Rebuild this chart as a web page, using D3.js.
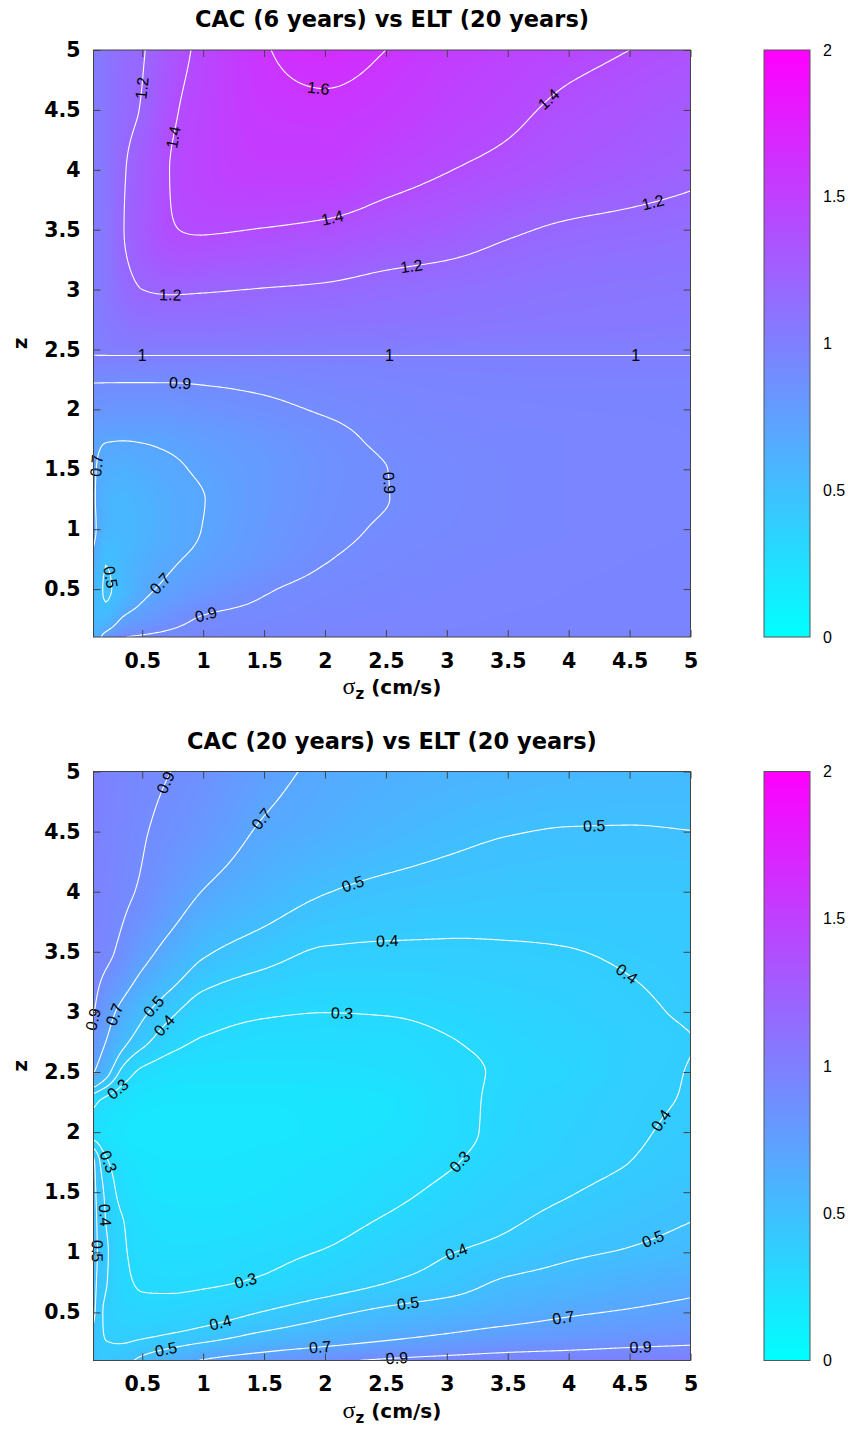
<!DOCTYPE html>
<html>
<head>
    <meta charset="utf-8">
    <title>CAC vs ELT</title>
    <script src="https://d3js.org/d3.v7.min.js"></script>
    <style>
        body { margin: 0; background: #fff; }
        .title { font-family: "DejaVu Sans", sans-serif; font-weight: bold; font-size: 22.5px; text-anchor: middle; }
        .axis-title { font-family: "DejaVu Sans", sans-serif; font-weight: bold; font-size: 20px; }
        .iso { fill: none; stroke: #fff; stroke-width: 1.1; }
        .iso-label { font-family: "Liberation Sans", Arial, sans-serif; font-size: 16px; fill: #000; }
        .cb-label { font-family: "Liberation Sans", Arial, sans-serif; font-size: 16px; fill: #000; }
    </style>
</head>
<body>
<div id="chart"></div>
<script>
    // sigma_z (cm/s) columns shared by both maps
    const sigmaGrid = [0.1, 0.2, 0.35, 0.5, 0.75, 1, 1.5, 2, 2.5, 3, 3.5, 4, 4.5, 5];

    // CAC (6 years) vs ELT (20 years): one row per z value
    const zGridTop = [0.1, 0.3, 0.5, 0.75, 1, 1.25, 1.5, 1.75, 2, 2.25, 2.45, 2.7, 3, 3.5, 4, 4.5, 5];
    const ratioTop = [
        [0.58, 0.76, 0.895, 0.915, 0.93, 0.94, 0.95, 0.955, 0.96, 0.962, 0.964, 0.965, 0.966, 0.967],
        [0.56, 0.52, 0.68, 0.75, 0.84, 0.895, 0.92, 0.94, 0.95, 0.955, 0.96, 0.962, 0.964, 0.965],
        [0.58, 0.49, 0.55, 0.66, 0.74, 0.80, 0.89, 0.925, 0.94, 0.95, 0.955, 0.96, 0.963, 0.965],
        [0.66, 0.505, 0.56, 0.62, 0.685, 0.73, 0.82, 0.895, 0.925, 0.94, 0.95, 0.955, 0.96, 0.965],
        [0.74, 0.58, 0.55, 0.59, 0.65, 0.703, 0.80, 0.87, 0.91, 0.93, 0.94, 0.95, 0.955, 0.96],
        [0.72, 0.60, 0.57, 0.60, 0.655, 0.697, 0.79, 0.86, 0.898, 0.925, 0.94, 0.95, 0.955, 0.96],
        [0.72, 0.64, 0.62, 0.645, 0.68, 0.72, 0.79, 0.855, 0.899, 0.925, 0.94, 0.95, 0.955, 0.96],
        [0.74, 0.71, 0.705, 0.71, 0.73, 0.76, 0.815, 0.87, 0.915, 0.935, 0.945, 0.95, 0.955, 0.96],
        [0.84, 0.83, 0.825, 0.825, 0.83, 0.845, 0.875, 0.91, 0.935, 0.95, 0.955, 0.96, 0.962, 0.965],
        [0.91, 0.91, 0.91, 0.91, 0.91, 0.915, 0.93, 0.95, 0.96, 0.97, 0.975, 0.978, 0.98, 0.98],
        [1, 1, 1, 1, 1, 1, 1, 1, 1, 1, 1, 1, 1, 1],
        [1.005, 1.04, 1.08, 1.1, 1.11, 1.11, 1.10, 1.09, 1.085, 1.075, 1.065, 1.055, 1.05, 1.04],
        [1.01, 1.06, 1.15, 1.2, 1.215, 1.21, 1.195, 1.18, 1.15, 1.13, 1.11, 1.09, 1.08, 1.07],
        [1.01, 1.07, 1.20, 1.28, 1.395, 1.41, 1.395, 1.37, 1.32, 1.28, 1.22, 1.18, 1.16, 1.14],
        [1.01, 1.08, 1.19, 1.27, 1.41, 1.47, 1.52, 1.52, 1.46, 1.405, 1.36, 1.31, 1.27, 1.23],
        [1.02, 1.08, 1.16, 1.21, 1.38, 1.46, 1.56, 1.575, 1.54, 1.48, 1.43, 1.37, 1.33, 1.29],
        [1.02, 1.08, 1.15, 1.19, 1.33, 1.44, 1.59, 1.65, 1.60, 1.53, 1.48, 1.44, 1.40, 1.36]
    ];
    const levelsTop = [0.5, 0.7, 0.9, 1, 1.2, 1.4, 1.6];
    // [level, sigma, z] where each contour label sits
    const labelsTop = [
        [1.2, 0.52, 4.68], [1.4, 0.76, 4.27], [1.6, 1.94, 4.62], [1.4, 3.88, 4.54], [1.4, 2.05, 3.65],
        [1.2, 4.68, 3.77], [1.2, 2.7, 3.26], [1.2, 0.73, 2.93], [1, 0.5, 2.45], [1, 2.53, 2.45],
        [1, 4.55, 2.45], [0.9, 0.81, 2.2], [0.9, 2.58, 1.39], [0.9, 1.02, 0.3], [0.7, 0.13, 1.53],
        [0.7, 0.68, 0.51], [0.5, 0.24, 0.6]
    ];

    // CAC (20 years) vs ELT (20 years)
    const zGridBottom = [0.1, 0.3, 0.5, 0.75, 1, 1.25, 1.5, 1.75, 2, 2.25, 2.5, 2.75, 3, 3.5, 4, 4.5, 5];
    const ratioBottom = [
        [0.44, 0.445, 0.47, 0.53, 0.62, 0.71, 0.80, 0.87, 0.92, 0.95, 0.97, 0.98, 0.99, 1.0],
        [0.47, 0.395, 0.38, 0.39, 0.415, 0.45, 0.535, 0.60, 0.665, 0.72, 0.77, 0.80, 0.83, 0.85],
        [0.52, 0.38, 0.345, 0.33, 0.335, 0.35, 0.405, 0.47, 0.53, 0.58, 0.63, 0.68, 0.715, 0.75],
        [0.53, 0.41, 0.32, 0.29, 0.285, 0.29, 0.31, 0.35, 0.398, 0.44, 0.52, 0.56, 0.61, 0.65],
        [0.54, 0.42, 0.31, 0.27, 0.255, 0.26, 0.28, 0.305, 0.35, 0.395, 0.43, 0.48, 0.51, 0.545],
        [0.54, 0.40, 0.30, 0.255, 0.235, 0.23, 0.245, 0.27, 0.31, 0.355, 0.39, 0.43, 0.465, 0.50],
        [0.53, 0.38, 0.26, 0.225, 0.21, 0.21, 0.22, 0.24, 0.275, 0.32, 0.365, 0.395, 0.43, 0.465],
        [0.52, 0.32, 0.24, 0.21, 0.2, 0.2, 0.21, 0.225, 0.25, 0.29, 0.34, 0.37, 0.40, 0.43],
        [0.26, 0.22, 0.2, 0.19, 0.19, 0.19, 0.195, 0.205, 0.225, 0.27, 0.325, 0.36, 0.39, 0.415],
        [0.32, 0.27, 0.23, 0.21, 0.2, 0.2, 0.2, 0.205, 0.215, 0.27, 0.32, 0.35, 0.385, 0.405],
        [0.71, 0.56, 0.36, 0.28, 0.245, 0.235, 0.235, 0.24, 0.25, 0.28, 0.31, 0.33, 0.375, 0.403],
        [0.82, 0.70, 0.53, 0.43, 0.33, 0.29, 0.27, 0.265, 0.27, 0.295, 0.32, 0.345, 0.37, 0.398],
        [0.91, 0.78, 0.64, 0.53, 0.415, 0.345, 0.31, 0.301, 0.305, 0.32, 0.34, 0.36, 0.385, 0.41],
        [0.96, 0.93, 0.86, 0.76, 0.63, 0.52, 0.44, 0.39, 0.385, 0.385, 0.39, 0.397, 0.41, 0.42],
        [0.98, 0.96, 0.92, 0.885, 0.79, 0.695, 0.58, 0.505, 0.47, 0.455, 0.445, 0.44, 0.44, 0.44],
        [0.99, 0.97, 0.94, 0.91, 0.86, 0.81, 0.68, 0.62, 0.57, 0.53, 0.505, 0.495, 0.494, 0.499],
        [1.0, 0.98, 0.95, 0.93, 0.898, 0.86, 0.75, 0.67, 0.63, 0.60, 0.58, 0.56, 0.55, 0.54]
    ];
    const levelsBottom = [0.3, 0.4, 0.5, 0.7, 0.9];
    const labelsBottom = [
        [0.9, 0.73, 4.89], [0.7, 1.46, 4.62], [0.5, 2.23, 4.06], [0.5, 4.21, 4.53], [0.4, 2.51, 3.62],
        [0.4, 4.48, 3.32], [0.3, 2.14, 3.0], [0.9, 0.13, 2.93], [0.7, 0.29, 2.97], [0.5, 0.53, 3.1],
        [0.4, 0.63, 2.93], [0.3, 0.25, 2.41], [0.3, 0.16, 1.74], [0.4, 0.2, 1.31], [0.5, 0.14, 1.01],
        [0.3, 1.34, 0.79], [0.3, 3.09, 1.77], [0.4, 4.78, 2.08], [0.4, 3.08, 1.0], [0.4, 1.14, 0.42],
        [0.5, 4.68, 1.14], [0.5, 2.68, 0.59], [0.5, 0.7, 0.17], [0.7, 1.96, 0.2], [0.7, 3.96, 0.44],
        [0.9, 2.59, 0.12], [0.9, 4.59, 0.21]
    ];

    const axisTicks = [0.5, 1, 1.5, 2, 2.5, 3, 3.5, 4, 4.5, 5];
    const colorTicks = [0, 0.5, 1, 1.5, 2];
    const titles = ["CAC (6 years) vs ELT (20 years)", "CAC (20 years) vs ELT (20 years)"];

    const width = 848, height = 1434;
    const left = 93.5, right = 690.5;
    const cbLeft = 764, cbRight = 810;

    const color = d3.scaleLinear().domain([0, 2]).range(["#00ffff", "#ff00ff"]);

    const svg = d3.select("#chart").append("svg")
        .attr("width", width)
        .attr("height", height);

    const defs = svg.append("defs");
    const grad = defs.append("linearGradient")
        .attr("id", "cbgrad")
        .attr("x1", 0).attr("y1", 1).attr("x2", 0).attr("y2", 0);
    grad.append("stop").attr("offset", 0).attr("stop-color", color(0));
    grad.append("stop").attr("offset", 1).attr("stop-color", color(2));

    // monotone cubic (Fritsch-Carlson) slopes and evaluation
    function pchipSlopes(xs, ys) {
        const n = xs.length, h = [], d = [], m = new Array(n);
        for (let i = 0; i < n - 1; i++) {
            h[i] = xs[i + 1] - xs[i];
            d[i] = (ys[i + 1] - ys[i]) / h[i];
        }
        m[0] = d[0];
        m[n - 1] = d[n - 2];
        for (let i = 1; i < n - 1; i++) {
            if (d[i - 1] * d[i] <= 0) m[i] = 0;
            else {
                const w1 = 2 * h[i] + h[i - 1], w2 = h[i] + 2 * h[i - 1];
                m[i] = (w1 + w2) / (w1 / d[i - 1] + w2 / d[i]);
            }
        }
        return m;
    }

    function pchip(xs, ys, m, xv) {
        const i = Math.min(Math.max(d3.bisectRight(xs, xv) - 1, 0), xs.length - 2);
        const h = xs[i + 1] - xs[i], t = (xv - xs[i]) / h;
        const t2 = t * t, t3 = t2 * t;
        return (2 * t3 - 3 * t2 + 1) * ys[i] + (t3 - 2 * t2 + t) * h * m[i] +
            (-2 * t3 + 3 * t2) * ys[i + 1] + (t3 - t2) * h * m[i + 1];
    }

    function smoothField(xs, ys, rows) {
        const rowM = rows.map(r => pchipSlopes(xs, r));
        const column = xv => rows.map((r, j) => pchip(xs, r, rowM[j], xv));
        return {
            column,
            at(xv, yv) {
                const c = column(xv);
                return pchip(ys, c, pchipSlopes(ys, c), yv);
            }
        };
    }

    // drop the parts of a contour ring that run along the grid border
    function splitRing(ring, n, m) {
        const onEdge = (a, b) => (a[0] === 0 && b[0] === 0) || (a[0] === n && b[0] === n) ||
            (a[1] === 0 && b[1] === 0) || (a[1] === m && b[1] === m);
        const k = ring.length - 1;
        let start = -1;
        for (let i = 0; i < k; i++) {
            if (onEdge(ring[i], ring[i + 1])) { start = i + 1; break; }
        }
        if (start < 0) return [ring];
        const out = [];
        let cur = [ring[start % k]];
        for (let s = 0; s < k; s++) {
            const a = ring[(start + s) % k], b = ring[(start + s + 1) % k];
            if (onEdge(a, b)) {
                if (cur.length > 1) out.push(cur);
                cur = [b];
            } else {
                cur.push(b);
            }
        }
        if (cur.length > 1) out.push(cur);
        return out;
    }

    const panels = [
        { top: 50, h: 587, zs: zGridTop, rows: ratioTop, levels: levelsTop, labels: labelsTop },
        { top: 771.5, h: 589, zs: zGridBottom, rows: ratioBottom, levels: levelsBottom, labels: labelsBottom }
    ];

    panels.forEach((p, idx) => drawPanel(p, idx));

    function drawPanel(p, idx) {
        const x = d3.scaleLinear().domain([0.1, 5]).range([left, right]);
        const y = d3.scaleLinear().domain([0.1, 5]).range([p.top + p.h, p.top]);
        const field = smoothField(sigmaGrid, p.zs, p.rows);

        defs.append("clipPath").attr("id", "clip" + idx)
            .append("rect")
            .attr("x", left).attr("y", p.top)
            .attr("width", right - left).attr("height", p.h);

        // sample the table on a fine raster for d3.contours
        const N = 246, M = 246;
        const ds = 4.9 / (N - 1), dz = 4.9 / (M - 1);
        const values = new Float64Array(N * M);
        for (let i = 0; i < N; i++) {
            const col = field.column(0.1 + i * ds);
            const cm = pchipSlopes(p.zs, col);
            for (let j = 0; j < M; j++) {
                values[j * N + i] = pchip(p.zs, col, cm, 5 - j * dz);
            }
        }
        const px = c => x(0.1 + (c - 0.5) * ds);
        const py = r => y(5 - (r - 0.5) * dz);
        const path = d3.geoPath(d3.geoTransform({
            point(a, b) { this.stream.point(px(a), py(b)); }
        }));

        const plot = svg.append("g").attr("clip-path", `url(#clip${idx})`);

        const lo = Math.floor(d3.min(values) * 100), hi = Math.ceil(d3.max(values) * 100);
        const bands = d3.range(lo, hi).map(k => k / 100);
        plot.append("g")
            .selectAll("path")
            .data(d3.contours().size([N, M]).thresholds(bands)(values))
            .join("path")
            .attr("d", path)
            .attr("fill", d => color(d.value + 0.005));

        const line = d3.line();
        const isoG = plot.append("g");
        d3.contours().size([N, M]).thresholds(p.levels)(values).forEach(c => {
            c.coordinates.forEach(poly => poly.forEach(ring => {
                splitRing(ring, N, M).forEach(seg => {
                    isoG.append("path")
                        .attr("class", "iso")
                        .attr("d", line(seg.map(q => [px(q[0]), py(q[1])])));
                });
            }));
        });

        // contour labels, snapped onto their line and turned along it
        const g = (X, Y) => field.at(x.invert(X), y.invert(Y));
        const labelG = svg.append("g");
        p.labels.forEach(([level, s, z]) => {
            let X = x(s), Y = y(z), gx = 0, gy = 0;
            for (let it = 0; it < 10; it++) {
                gx = g(X + 0.5, Y) - g(X - 0.5, Y);
                gy = g(X, Y + 0.5) - g(X, Y - 0.5);
                const g2 = gx * gx + gy * gy;
                if (g2 < 1e-14) break;
                const v = g(X, Y) - level;
                X -= v * gx / g2;
                Y -= v * gy / g2;
            }
            let ang = Math.atan2(-gx, gy) * 180 / Math.PI;
            if (ang > 90) ang -= 180;
            if (ang < -90) ang += 180;
            labelG.append("text")
                .attr("class", "iso-label")
                .attr("text-anchor", "middle")
                .attr("dy", "0.35em")
                .attr("transform", `translate(${X},${Y}) rotate(${ang})`)
                .text(String(level));
        });

        // axes with inward ticks on all four sides
        const bottom = p.top + p.h;
        const styleAxis = sel => {
            sel.select(".domain").remove();
            sel.selectAll(".tick line").attr("stroke", "#444");
            sel.selectAll(".tick text")
                .attr("fill", "#000")
                .attr("font-family", "'DejaVu Sans', sans-serif")
                .attr("font-weight", "bold")
                .attr("font-size", 20.5);
        };
        svg.append("g")
            .attr("transform", `translate(0,${bottom})`)
            .call(d3.axisBottom(x).tickValues(axisTicks).tickSize(-7).tickPadding(16).tickFormat(d => String(d)))
            .call(styleAxis);
        svg.append("g")
            .attr("transform", `translate(0,${p.top})`)
            .call(d3.axisTop(x).tickValues(axisTicks).tickSize(-7).tickFormat(""))
            .call(styleAxis);
        svg.append("g")
            .attr("transform", `translate(${left},0)`)
            .call(d3.axisLeft(y).tickValues(axisTicks).tickSize(-7).tickPadding(13).tickFormat(d => String(d)))
            .call(styleAxis);
        svg.append("g")
            .attr("transform", `translate(${right},0)`)
            .call(d3.axisRight(y).tickValues(axisTicks).tickSize(-7).tickFormat(""))
            .call(styleAxis);

        svg.append("rect")
            .attr("x", left).attr("y", p.top)
            .attr("width", right - left).attr("height", p.h)
            .attr("fill", "none")
            .attr("stroke", "#444");

        // titles
        svg.append("text")
            .attr("class", "title")
            .attr("x", (left + right) / 2)
            .attr("y", p.top - 23)
            .text(titles[idx]);

        const xt = svg.append("text")
            .attr("class", "axis-title")
            .attr("text-anchor", "middle")
            .attr("x", (left + right) / 2)
            .attr("y", bottom + 57);
        xt.append("tspan")
            .attr("font-family", "'Liberation Serif', serif")
            .attr("font-weight", "normal")
            .attr("font-size", 24)
            .text("σ");
        xt.append("tspan")
            .attr("font-size", 15)
            .attr("dy", 5)
            .text("z");
        xt.append("tspan")
            .attr("dy", -5)
            .text(" (cm/s)");

        svg.append("text")
            .attr("class", "axis-title")
            .attr("text-anchor", "middle")
            .attr("transform", `translate(27,${p.top + p.h / 2}) rotate(-90)`)
            .text("z");

        // colour bar
        const cy = d3.scaleLinear().domain([0, 2]).range([bottom, p.top]);
        svg.append("rect")
            .attr("x", cbLeft).attr("y", p.top)
            .attr("width", cbRight - cbLeft).attr("height", p.h)
            .attr("fill", "url(#cbgrad)")
            .attr("stroke", "#555");
        svg.append("g")
            .selectAll("text")
            .data(colorTicks)
            .join("text")
            .attr("class", "cb-label")
            .attr("x", 823)
            .attr("y", d => cy(d))
            .attr("dy", "0.35em")
            .text(d => String(d));
    }
</script>
</body>
</html>
